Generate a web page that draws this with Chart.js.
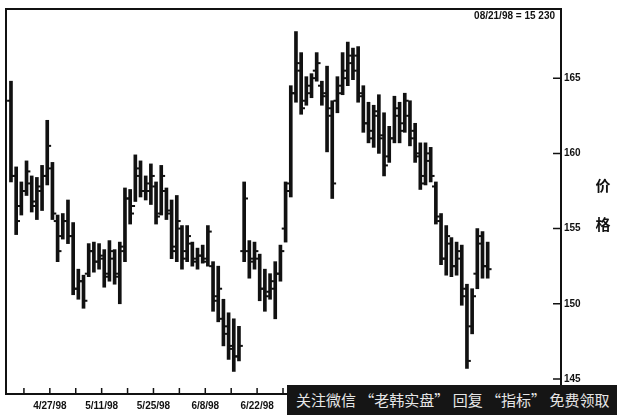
<!DOCTYPE html>
<html>
<head>
<meta charset="utf-8">
<script src="https://cdn.jsdelivr.net/npm/chart.js@4.4.1/dist/chart.umd.min.js"></script>
<style>
html,body{margin:0;padding:0;background:#fff;}
#wrap{position:relative;width:617px;height:415px;overflow:hidden;}
#wm{position:absolute;left:287px;top:385px;width:330px;height:30px;background:#151515;color:#e6e6e6;
font-family:"Noto Sans CJK SC",sans-serif;font-size:15px;line-height:30px;padding-left:9px;box-sizing:border-box;white-space:nowrap;}
</style>
</head>
<body>
<div id="wrap">
<canvas id="c" width="617" height="415"></canvas>
<div id="wm">关注微信 “老韩实盘” 回复 “指标” 免费领取</div>
</div>
<script>
// Weekly x-axis labels (tick before each Monday)
const weekLabels = ['', '4/27/98', '', '5/11/98', '', '5/25/98', '', '6/8/98', '', '6/22/98', '', '7/6/98', '', '7/20/98', '', '8/3/98', '', '8/17/98', '', ''];
const priceTicks = [145, 150, 155, 160, 165];
const lastLabel = '08/21/98 = 15 230';
const axisTitle = ['价', '格'];

// Daily OHLC values (trading days 4/15/98 .. 8/21/98)
const highs = [164.8,159.1,158.1,159.5,158.5,158.4,159.2,162.2,159.4,155.9,
156.0,156.9,155.4,152.3,151.9,154.0,154.1,154.0,153.6,154.2,
153.6,154.1,157.7,157.6,159.9,159.5,158.5,159.3,158.1,159.2,
157.7,156.9,157.2,155.2,155.2,154.1,153.7,153.9,155.2,152.8,
152.5,150.3,149.4,149.0,148.5,158.1,154.2,154.1,153.3,152.3,
152.0,152.8,153.9,158.1,164.5,168.1,166.7,165.1,165.3,166.7,
164.8,165.8,163.5,165.1,166.7,167.4,167.0,167.1,164.5,163.4,
163.2,163.9,162.7,161.8,163.8,163.4,164.0,163.5,162.0,160.7,
160.7,160.4,158.1,156.0,155.2,154.4,154.1,153.9,151.3,151.0,
155.0,154.8,154.1];
const lows = [158.1,154.6,155.9,157.2,156.1,155.6,156.2,157.9,155.6,152.8,
154.3,154.0,150.6,150.3,149.7,151.8,152.1,152.3,151.1,151.5,
151.3,150.0,152.8,155.3,156.8,157.1,156.9,156.6,155.3,155.9,
155.6,153.0,152.8,152.3,152.8,152.5,152.3,152.7,152.5,149.5,
148.8,147.2,146.3,145.5,146.2,152.8,151.7,152.3,150.2,149.5,
150.3,149.0,151.5,154.1,157.1,163.4,162.6,163.2,163.7,164.8,
163.2,160.1,157.0,162.7,163.9,164.5,164.9,163.4,161.4,160.7,
160.4,160.0,158.5,159.4,160.7,160.7,161.4,160.5,159.4,157.6,
157.9,158.1,155.3,152.6,151.9,151.8,151.9,149.9,145.7,148.0,
151.0,151.7,151.7];
const opens = [163.5,158.5,156.5,157.5,158.0,156.5,157.5,158.5,159.0,155.5,
154.5,155.5,154.5,151.0,151.5,152.0,153.5,152.8,153.0,152.0,
153.0,152.0,153.5,157.0,156.5,158.5,157.5,157.5,157.8,156.0,
157.5,156.0,153.8,155.0,153.5,154.0,153.0,153.2,153.0,152.5,
150.5,149.0,148.5,147.2,146.5,153.5,153.5,153.0,153.0,151.0,
150.8,151.0,152.0,155.0,158.0,164.0,165.5,163.5,164.0,165.5,
164.5,164.0,162.5,163.5,164.0,165.0,166.0,166.5,163.8,162.0,
161.0,162.5,161.2,159.8,161.0,162.5,162.0,162.5,161.5,160.0,
158.5,159.5,157.8,155.5,153.0,154.0,152.5,153.0,151.0,148.5,
152.0,154.0,152.5];
const closes = [158.5,155.5,157.5,158.8,156.8,157.8,158.5,160.5,156.0,153.5,
155.5,154.5,151.0,151.5,150.2,153.5,152.8,153.2,151.8,153.5,
151.8,153.8,157.0,156.0,159.0,157.5,158.0,158.5,155.8,158.5,
156.2,153.5,155.5,153.0,154.5,152.8,153.2,152.8,154.8,150.2,
151.0,148.0,147.0,146.5,147.2,157.0,152.8,153.5,151.0,150.5,
151.5,152.0,153.5,157.5,164.0,166.0,163.0,164.5,165.0,166.0,
163.8,163.0,158.0,164.5,165.5,166.5,165.5,164.0,162.0,161.5,
162.8,161.0,159.2,161.0,163.0,161.5,163.5,161.0,159.8,158.0,
160.0,158.5,155.8,153.0,154.5,152.5,153.5,150.5,146.2,150.5,
154.5,152.5,152.3];

const rangeData = highs.map((h, i) => ({x: i, y: [lows[i], h]}));
const openData = opens.map((o, i) => ({x: i - 0.4, y: o}));
const closeData = closes.map((c, i) => ({x: i + 0.4, y: c}));
const weekTickValues = weekLabels.map((_, k) => 2.5 + 5 * k);

const FONT = "'Liberation Sans', Arial, sans-serif";

const framePlugin = {
  id: 'frame',
  afterDraw(chart) {
    const ctx = chart.ctx;
    const a = chart.chartArea;
    const xs = chart.scales.x, ys = chart.scales.y;
    ctx.save();
    ctx.strokeStyle = '#111';
    ctx.lineWidth = 2;
    ctx.strokeRect(a.left, a.top, a.right - a.left, a.bottom - a.top);
    ctx.lineWidth = 1.5;
    ctx.beginPath();
    priceTicks.forEach(v => {
      const y = ys.getPixelForValue(v);
      ctx.moveTo(a.right - 8, y); ctx.lineTo(a.right, y);
    });
    weekTickValues.forEach(v => {
      const x = xs.getPixelForValue(v);
      if (x > a.left && x < a.right) { ctx.moveTo(x, a.bottom); ctx.lineTo(x, a.bottom - 6); }
    });
    ctx.stroke();
    ctx.fillStyle = '#111';
    ctx.font = 'bold 10px ' + FONT;
    ctx.textAlign = 'right';
    ctx.textBaseline = 'middle';
    ctx.fillText(lastLabel, a.right - 6, a.top + 7);
    ctx.font = 'bold 15px "Noto Sans CJK SC", sans-serif';
    ctx.textAlign = 'center';
    const midY = (ys.getPixelForValue(157.2) + ys.getPixelForValue(157.2)) / 2;
    ctx.fillText(axisTitle[0], a.right + 42, ys.getPixelForValue(157.9));
    ctx.fillText(axisTitle[1], a.right + 42, ys.getPixelForValue(155.3));
    ctx.restore();
  }
};

new Chart(document.getElementById('c'), {
  type: 'bar',
  data: {
    datasets: [
      {type: 'bar', data: rangeData, backgroundColor: '#111', barThickness: 3, borderWidth: 0, order: 2},
      {type: 'scatter', data: openData, pointStyle: 'line', radius: 1.8, borderColor: '#111', borderWidth: 2, order: 1},
      {type: 'scatter', data: closeData, pointStyle: 'line', radius: 1.8, borderColor: '#111', borderWidth: 2, order: 1}
    ]
  },
  options: {
    responsive: false,
    animation: false,
    devicePixelRatio: 1,
    layout: {padding: {left: 4, top: 6, right: 0, bottom: 0}},
    plugins: {legend: {display: false}, tooltip: {enabled: false}},
    scales: {
      x: {
        type: 'linear', offset: false, min: -0.96, max: 106.15,
        grid: {display: false, drawTicks: false}, border: {display: false},
        afterBuildTicks: s => { s.ticks = weekTickValues.map(v => ({value: v})); },
        afterFit: s => { s.height = 21; },
        ticks: {autoSkip: false, maxRotation: 0, padding: 6, color: '#111',
          font: {family: FONT, size: 10, weight: 'bold'},
          callback: (v, i) => weekLabels[i]}
      },
      y: {
        type: 'linear', position: 'right', min: 144.0, max: 169.6,
        grid: {display: false, drawTicks: false}, border: {display: false},
        afterBuildTicks: s => { s.ticks = priceTicks.map(v => ({value: v})); },
        afterFit: s => { s.width = 56; },
        ticks: {padding: 3, color: '#111', font: {family: FONT, size: 10, weight: 'bold'}}
      }
    }
  },
  plugins: [framePlugin]
});
</script>
</body>
</html>
